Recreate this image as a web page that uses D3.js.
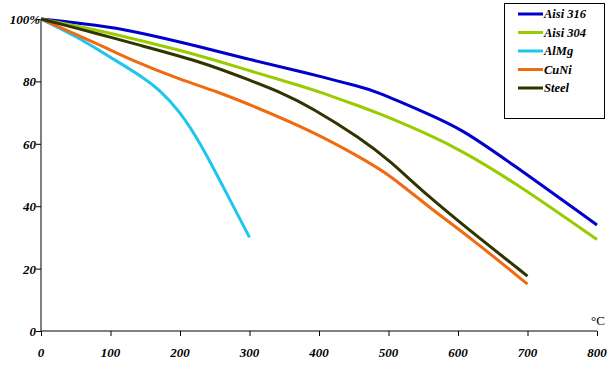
<!DOCTYPE html>
<html>
<head>
<meta charset="utf-8">
<script src="https://cdn.jsdelivr.net/npm/d3@7"></script>
<style>
  body { margin: 0; background: #fff; }
  svg { display: block; }
  svg text { font-family: "Times New Roman", Times, "Liberation Serif", "Noto Serif", serif; }
  .tick-label { font-weight: bold; font-style: italic; font-size: 13px; }
  .legend-label { font-weight: bold; font-style: italic; font-size: 12.5px; }
</style>
</head>
<body>
<div id="chart"></div>
<script>
const seriesNames = ['Aisi 316', 'Aisi 304', 'AlMg', 'CuNi', 'Steel'];
const seriesColors = ['#0000cc', '#99cc00', '#1ec6ee', '#f06a10', '#333300'];

const aisi316 = [[0, 100], [85, 97.9], [130, 96.3], [230, 91.1], [300, 87], [373, 83.2], [400, 81.7], [460, 78.2], [480, 77], [555, 69.8], [605, 64.8], [675, 54], [800, 34]];
const aisi304 = [[0, 100], [85, 96.3], [130, 93.8], [230, 88.3], [300, 83.4], [373, 78.6], [400, 76.7], [460, 71.9], [480, 70.3], [555, 63.3], [605, 57.8], [675, 48.6], [800, 29.3]];
const almg = [[0, 100], [50, 94.5], [85, 89.8], [120, 85], [145, 81.5], [170, 77.5], [200, 70.4], [230, 60], [265, 45], [300, 30]];
const cuni = [[0, 100], [85, 91.7], [130, 86.8], [200, 80.6], [255, 76.6], [300, 72.6], [387, 64.4], [460, 55.6], [502, 50], [555, 40.2], [622, 29.2], [700, 15]];
const steel = [[0, 100], [85, 95.1], [130, 92.3], [230, 86.4], [300, 80.4], [348, 76.2], [387, 71.9], [460, 61.8], [502, 54.6], [555, 43.5], [631, 29.7], [700, 17.6]];

const xTicks = [0, 100, 200, 300, 400, 500, 600, 700, 800];
const yTicks = [0, 20, 40, 60, 80, 100];
const yTickLabels = ['0', '20', '40', '60', '80', '100%'];

const allSeries = [aisi316, aisi304, almg, cuni, steel];

const width = 614, height = 371;
const svg = d3.select('#chart').append('svg')
  .attr('width', width)
  .attr('height', height);

const x = d3.scaleLinear().domain([0, 800]).range([41, 597]);
const y = d3.scaleLinear().domain([0, 100]).range([331, 19]);

// x axis
const xAxis = svg.append('g')
  .attr('transform', `translate(0,${y(0)})`)
  .call(d3.axisBottom(x).tickValues(xTicks).tickSize(5).tickFormat(''));
xAxis.select('.domain').attr('stroke', '#000').attr('d', `M${x(0)},0H${x(800)}`);
xAxis.selectAll('.tick line').attr('stroke', '#000');

svg.selectAll('.x-label')
  .data(xTicks)
  .enter()
  .append('text')
  .attr('class', 'tick-label')
  .attr('x', d => x(d))
  .attr('y', y(0) + 26)
  .attr('text-anchor', 'middle')
  .text(d => d);

// y axis
const yAxis = svg.append('g')
  .attr('transform', `translate(${x(0)},0)`)
  .call(d3.axisLeft(y).tickValues(yTicks).tickSize(5).tickFormat(''));
yAxis.select('.domain').attr('stroke', '#000').attr('d', `M0,${y(0)}V${y(100)}`);
yAxis.selectAll('.tick line').attr('stroke', '#000');

svg.selectAll('.y-label')
  .data(yTicks)
  .enter()
  .append('text')
  .attr('class', 'tick-label')
  .attr('x', d => d === 100 ? x(0) - 1 : x(0) - 5)
  .attr('y', d => y(d) + 5)
  .attr('text-anchor', 'end')
  .text((d, i) => yTickLabels[i]);

svg.append('text')
  .attr('x', 591)
  .attr('y', 325)
  .attr('font-size', '13px')
  .text('°C');

// lines - basis smoothing irons out reading noise
const line = d3.line()
  .x(d => x(d[0]))
  .y(d => y(d[1]))
  .curve(d3.curveBasis);

svg.selectAll('.series')
  .data(allSeries)
  .enter()
  .append('path')
  .attr('class', 'series')
  .attr('fill', 'none')
  .attr('stroke', (d, i) => seriesColors[i])
  .attr('stroke-width', 3)
  .attr('d', line);

// legend
const legend = svg.append('g');
legend.append('rect')
  .attr('x', 504.5)
  .attr('y', 3.5)
  .attr('width', 100)
  .attr('height', 115)
  .attr('fill', '#fff')
  .attr('stroke', '#000');

const items = legend.selectAll('.item')
  .data(seriesNames)
  .enter()
  .append('g')
  .attr('transform', (d, i) => `translate(0,${14 + i * 18.5})`);

items.append('line')
  .attr('x1', 518)
  .attr('x2', 543)
  .attr('stroke', (d, i) => seriesColors[i])
  .attr('stroke-width', 3);

items.append('text')
  .attr('class', 'legend-label')
  .attr('x', 544)
  .attr('y', 4)
  .text(d => d);
</script>
</body>
</html>
